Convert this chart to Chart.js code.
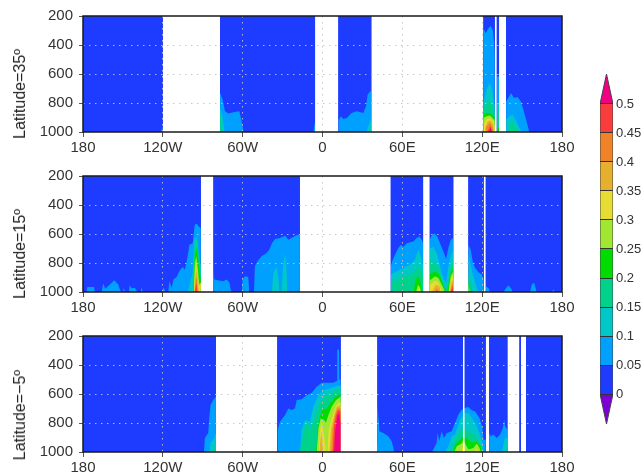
<!DOCTYPE html>
<html>
<head>
<meta charset="utf-8">
<title>Latitude sections</title>
<script src="https://cdn.jsdelivr.net/npm/chart.js@4/dist/chart.umd.min.js"></script>
<style>
    body { margin: 0; background: #fff; font-family: "Liberation Sans", sans-serif; filter: blur(0.35px); width: 643px; height: 474px; overflow: hidden; }
    .panel { position: absolute; left: 0; width: 643px; }
    .lat { position: absolute; left: 11px; writing-mode: vertical-rl; transform: rotate(180deg); font-size: 16px; line-height: 18px; color: #222; white-space: nowrap; }
    #colorbar { position: absolute; left: 590px; top: 60px; }
</style>
</head>
<body>
<div class="panel" style="top:0;height:160px"><canvas id="lat35Chart" width="643" height="160"></canvas><div class="lat" style="bottom:21px">Latitude=35º</div></div>
<div class="panel" style="top:160px;height:160px"><canvas id="lat15Chart" width="643" height="160"></canvas><div class="lat" style="bottom:21px">Latitude=15º</div></div>
<div class="panel" style="top:320px;height:154px"><canvas id="lat5Chart" width="643" height="154"></canvas><div class="lat" style="bottom:14px">Latitude=−5º</div></div>
<canvas id="colorbar" width="53" height="380"></canvas>
<script>
// Axis labels and colour levels
const lonLabels = ['180', '120W', '60W', '0', '60E', '120E', '180'];
const pressureTicks = [200, 400, 600, 800, 1000];
const levels = [0, 0.05, 0.1, 0.15, 0.2, 0.25, 0.3, 0.35, 0.4, 0.45, 0.5];
const levelColors = ['#1e3cff', '#00a0ff', '#00c8c8', '#00d28c', '#00dc00', '#a0e632', '#e6dc32', '#e6af2d', '#f08228', '#fa3c3c', '#f00082'];
const belowColor = '#7d00d5';

// Longitude ranges with no data (drawn white)
const lat35Missing = [[-120, -77], [-5.6, 11.9], [36.7, 120.9], [129.5, 131], [132.7, 138]];
const lat15Missing = [[-91.4, -82], [-17, 51.3], [75.6, 80.6], [98.3, 109.6], [121.2, 122.7]];
const lat5Missing = [[-80.1, -34], [13.7, 41.2], [105.6, 106.9], [122.7, 125.2], [139, 148], [149.2, 153]];

// Contours: [level index, [[lon, hPa], ...]], filled down to 1000 hPa
const lat35Contours = [
    [1, [[-121.5, 1000], [-120, 960]]],
    [1, [[-77, 731], [-75, 777], [-73.3, 857], [-70.8, 873], [-67, 864], [-62.5, 857], [-60.8, 926], [-59.5, 983], [-59.4, 1000]]],
    [2, [[-77, 830], [-75, 900], [-73.5, 1000]]],
    [3, [[-77, 869], [-76, 940], [-75, 1000]]],
    [1, [[-7, 1000], [-5.6, 930]]],
    [1, [[11.9, 926], [13.7, 892], [15.7, 910], [18.2, 903], [21.9, 869], [25.7, 857], [30.7, 869], [32.7, 823], [33.9, 743], [35.7, 720], [36.7, 713]]],
    [2, [[33, 1000], [36.7, 903]]],
    [1, [[120.9, 285], [122.7, 319], [124.7, 285], [126.4, 269], [128, 296], [129, 388], [129.5, 468]]],
    [2, [[120.9, 800], [123.4, 708], [125.4, 663], [127.2, 697], [129.5, 823]]],
    [3, [[120.9, 846], [123, 811], [125.4, 777], [127.2, 800], [129.5, 880]]],
    [4, [[120.9, 880], [123.4, 869], [126, 869], [129.5, 903]]],
    [5, [[120.9, 903], [123.4, 892], [126, 887], [129.5, 920]]],
    [6, [[121.4, 949], [123.4, 910], [126, 903], [128.4, 926], [129.5, 960]]],
    [7, [[122.2, 972], [124.2, 926], [126.4, 920], [128.4, 949], [129, 1000]]],
    [8, [[122.8, 1000], [123.4, 960], [126, 932], [128, 972], [128.4, 1000]]],
    [9, [[124.2, 1000], [126, 955], [127.4, 1000]]],
    [10, [[125.2, 1000], [126.4, 966], [127.4, 1000]]],
    [1, [[131, 617], [132.7, 617]]],
    [2, [[131, 800], [132.7, 800]]],
    [3, [[131, 870], [132.7, 870]]],
    [4, [[131, 970], [132.7, 970]]],
    [1, [[138, 789], [139.7, 766], [141.7, 731], [144, 766], [146.5, 759], [149.2, 789], [151, 846], [153, 914], [154.7, 972], [155.3, 1000]]],
    [2, [[138, 914], [140.5, 892], [143, 880], [145.5, 926], [148, 972], [149.8, 1000]]],
    [3, [[139.5, 1000], [140.5, 960], [142, 930], [145, 960], [147, 1000]]]
];

const lat15Contours = [
    [1, [[-177.3, 1000], [-176.8, 965], [-171.6, 965], [-171.1, 1000]]],
    [1, [[-166, 1000], [-164.8, 942], [-163.3, 978], [-159.8, 949], [-156.5, 919], [-153.5, 949], [-152.3, 983], [-151, 1000]]],
    [1, [[-150, 1000], [-149.3, 972], [-148.5, 1000]]],
    [1, [[-145.5, 1000], [-145, 955], [-143.5, 972], [-141, 972], [-139, 1000]]],
    [1, [[-136.5, 1000], [-136, 968], [-135, 1000]]],
    [1, [[-120.5, 1000], [-119.7, 968], [-117.7, 1000]]],
    [1, [[-116, 1000], [-115, 926], [-113.4, 972], [-112, 914], [-109.7, 896], [-107, 846], [-105, 827], [-103.4, 846], [-101.6, 766], [-100, 674], [-97.6, 663], [-96, 537], [-94.6, 530], [-92.9, 548], [-91.4, 560]]],
    [2, [[-101, 1000], [-99.6, 937], [-97.6, 869], [-96.4, 640], [-94.6, 617], [-92.9, 754], [-91.4, 823]]],
    [3, [[-97.6, 1000], [-96.6, 777], [-95.6, 640], [-94.1, 640], [-92.6, 800], [-91.4, 880]]],
    [4, [[-97.1, 1000], [-96.1, 754], [-95.1, 690], [-94.1, 708], [-92.6, 857], [-91.4, 903]]],
    [5, [[-96.9, 1000], [-95.9, 800], [-94.9, 754], [-93.9, 823], [-92.1, 1000]]],
    [6, [[-96.6, 1000], [-95.6, 834], [-94.9, 789], [-93.9, 869], [-92.9, 960], [-92.1, 940], [-91.4, 937]]],
    [7, [[-96.4, 1000], [-95.4, 880], [-94.6, 846], [-93.6, 926], [-92.9, 1000]]],
    [8, [[-96.1, 1000], [-95.1, 914], [-94.6, 896], [-93.9, 1000]]],
    [9, [[-95.9, 1000], [-94.9, 937], [-94.4, 937], [-93.9, 1000]]],
    [1, [[-82, 846], [-81.3, 914], [-79.6, 918], [-74.6, 926], [-72, 914], [-70, 932], [-69, 983], [-68.3, 1000]]],
    [1, [[-60.8, 1000], [-60, 910], [-58.3, 892], [-55.8, 896], [-55, 1000]]],
    [1, [[-51.5, 1000], [-50.8, 823], [-49, 789], [-45.8, 754], [-42, 731], [-40, 708], [-38, 663], [-35.7, 635], [-32, 628], [-28, 612], [-25.7, 640], [-22, 621], [-18.7, 605], [-17, 605]]],
    [2, [[-38, 1000], [-37, 869], [-34.5, 827], [-33, 914], [-32.5, 1000]]],
    [2, [[-30.7, 1000], [-29.5, 800], [-28, 743], [-27, 846], [-26.5, 1000]]],
    [1, [[51.3, 823], [52.8, 777], [54.5, 743], [57, 697], [59, 674], [60.8, 690], [63.3, 663], [68.3, 651], [70.8, 628], [72.8, 617], [74.6, 640], [75.6, 663]]],
    [2, [[51.3, 880], [55.8, 857], [60.8, 834], [65.8, 811], [69.5, 777], [72, 708], [74.6, 777], [75.6, 823]]],
    [3, [[51.3, 938], [55.8, 914], [60.8, 892], [65.8, 880], [69.5, 857], [72, 823], [74.6, 857], [75.6, 880]]],
    [4, [[68.3, 1000], [69.5, 937], [71.3, 892], [73.3, 914], [74.6, 1000]]],
    [5, [[70.3, 1000], [71.8, 949], [73.3, 972], [74.1, 1000]]],
    [6, [[71.8, 1000], [72.8, 960], [73.6, 1000]]],
    [1, [[80.6, 640], [82, 612], [84, 594], [86.3, 617], [88.8, 674], [90.9, 720], [92.9, 772], [94.6, 697], [96.4, 640], [98.3, 628]]],
    [2, [[80.6, 697], [83.3, 690], [85.8, 731], [87.8, 800], [89.6, 869], [91.3, 914], [92.9, 942], [94.6, 823], [96.4, 754], [98.3, 708]]],
    [3, [[80.6, 777], [84.6, 811], [87.1, 834], [89.6, 914], [92.1, 972], [93.4, 983], [95.4, 869], [98.3, 777]]],
    [4, [[80.6, 880], [84.6, 857], [87.8, 880], [90.1, 937], [92.9, 1000]]],
    [4, [[93.9, 1000], [95.9, 880], [98.3, 823]]],
    [5, [[80.6, 920], [84.6, 892], [87.1, 903], [90.9, 972], [92.1, 1000]]],
    [5, [[94.6, 1000], [96.4, 892], [98.3, 857]]],
    [6, [[80.6, 955], [84.6, 920], [87.1, 932], [90.1, 1000]]],
    [6, [[95.1, 1000], [96.6, 914], [98.3, 880]]],
    [7, [[82.1, 1000], [85.3, 949], [87.8, 960], [88.8, 1000]]],
    [7, [[95.6, 1000], [96.9, 937], [98.3, 914]]],
    [8, [[84.6, 1000], [85.8, 972], [87.8, 1000]]],
    [8, [[96.1, 1000], [97.1, 955], [98.3, 937]]],
    [9, [[96.4, 1000], [97.4, 972], [98.3, 960]]],
    [1, [[109.6, 674], [111.4, 708], [112.9, 789], [114.7, 834], [117.2, 864], [119.7, 880], [121.2, 914]]],
    [2, [[109.6, 731], [110.9, 800], [112.9, 880], [116, 972], [117.2, 1000]]],
    [3, [[109.6, 869], [110.9, 914], [112.2, 972], [112.9, 1000]]],
    [4, [[109.6, 926], [111.4, 1000]]],
    [5, [[109.6, 949], [110.9, 1000]]],
    [1, [[122.7, 960], [124.7, 972], [126, 1000]]],
    [1, [[136, 1000], [138, 972], [139.7, 955], [141.5, 972], [143, 1000]]],
    [1, [[156, 1000], [157.3, 949], [159, 937], [161, 1000]]],
    [1, [[172.3, 1000], [173.5, 983], [174.8, 1000]]]
];

const lat5Contours = [
    [1, [[-89.1, 1000], [-88.4, 903], [-85.9, 869], [-85, 754], [-84.1, 674], [-82, 640], [-80.1, 617]]],
    [2, [[-85, 1000], [-84.1, 937], [-82, 914], [-80.1, 869]]],
    [3, [[-82, 1000], [-80.1, 950]]],
    [1, [[-33.7, 849], [-32, 792], [-28.2, 746], [-25.7, 700], [-23.2, 711], [-20.7, 700], [-19.4, 642], [-15.7, 637], [-11.9, 608], [-8.1, 591], [-4.4, 550], [-0.6, 522], [4.4, 522], [8.2, 522], [10.9, 509], [11.1, 297], [12.4, 292], [12.7, 499], [13.7, 504]]],
    [2, [[-16.9, 1000], [-15.7, 849], [-13.2, 780], [-9.4, 792], [-6.9, 688], [-3.1, 608], [0.6, 573], [5.7, 562], [9.4, 550], [13.7, 539]]],
    [3, [[-16.9, 1000], [-14.4, 872], [-11.9, 792], [-9.4, 849], [-6.9, 792], [-4.4, 723], [-1.9, 654], [1.9, 619], [6.9, 596], [10.7, 573], [13.7, 562]]],
    [4, [[-4.9, 1000], [-3.6, 826], [-1.9, 752], [0.1, 700], [2.6, 706], [5.6, 665], [9.4, 624], [13.7, 596]]],
    [5, [[-4.4, 1000], [-3.1, 838], [-1.4, 769], [1.1, 780], [2.6, 798], [4.4, 746], [6.9, 688], [10.2, 642], [13.7, 619]]],
    [6, [[-3.1, 1000], [-1.9, 849], [-0.6, 792], [1.1, 872], [2.6, 1000]]],
    [6, [[3.6, 1000], [4.6, 849], [6.9, 769], [10.2, 677], [13.7, 654]]],
    [7, [[-2.4, 1000], [-0.9, 860], [0.6, 1000]]],
    [7, [[5.1, 1000], [6.4, 849], [8.2, 769], [10.7, 688], [13.7, 677]]],
    [8, [[6.4, 1000], [7.7, 838], [9.4, 746], [11.2, 700], [13.7, 700]]],
    [9, [[7.7, 1000], [8.7, 826], [10.2, 746], [11.7, 711], [13.7, 723]]],
    [10, [[8.7, 1000], [9.4, 872], [10.7, 769], [11.9, 734], [12.7, 746], [13.7, 803]]],
    [1, [[41.2, 674], [42.2, 777], [42.7, 857], [45.7, 869], [49.5, 892], [52, 926], [53.3, 972], [53.8, 1000]]],
    [2, [[41.2, 914], [42, 1000]]],
    [1, [[82.1, 1000], [83.3, 983], [85.8, 937], [86.6, 869], [87.8, 926], [89.6, 857], [91.3, 903], [93.4, 869], [97.1, 857], [99.6, 800], [102.1, 743], [104.6, 708], [107, 697], [109.6, 690], [112.2, 712], [114.7, 720], [118, 766], [120.2, 834], [121, 914], [122.7, 918]]],
    [2, [[92.1, 1000], [94.6, 960], [97.1, 892], [99.6, 880], [103.4, 777], [107.1, 731], [109.6, 731], [112.2, 766], [114.7, 800], [118, 869], [120.2, 937], [121.2, 1000]]],
    [3, [[97.1, 1000], [99.1, 926], [102.1, 869], [105.9, 834], [109.6, 857], [113.4, 880], [117.2, 914], [120.2, 1000]]],
    [4, [[98.4, 1000], [99.6, 949], [103.4, 914], [105.9, 892], [109.6, 914], [112.2, 937], [116, 926], [119, 960], [119.7, 1000]]],
    [5, [[99.1, 1000], [100.9, 960], [104.6, 942], [105.9, 914], [107.6, 949], [109.6, 983], [113.4, 972], [116, 942], [118, 972], [119, 1000]]],
    [6, [[104.6, 1000], [105.9, 937], [107.2, 1000]]],
    [6, [[114.7, 1000], [116, 972], [117.2, 1000]]],
    [1, [[125.2, 869], [126.4, 892], [128.4, 880], [131, 903], [133.5, 880], [135.5, 834], [136.5, 777], [137.2, 823], [139, 846]]],
    [2, [[134.7, 1000], [137.2, 903], [139, 903]]]
];

const commonDataset = { type: 'line', pointRadius: 0, borderWidth: 0, tension: 0 };
const gridColor = 'rgba(195, 195, 195, 0.9)';

function toPoints(pairs) {
    return pairs.map(p => ({ x: p[0], y: p[1] }));
}

// Draw order: base blue, then rising levels, then the white missing columns
function panelDatasets(contours, missing) {
    const sets = [{ ...commonDataset, data: toPoints([[-180, 200], [180, 200]]), backgroundColor: levelColors[0], fill: { value: 1000 }, order: 20 }];
    contours.forEach(c => {
        sets.push({ ...commonDataset, data: toPoints(c[1]), backgroundColor: levelColors[c[0]], fill: { value: 1000 }, order: 20 - c[0] });
    });
    missing.forEach(m => {
        sets.push({ ...commonDataset, data: toPoints([[m[0], 200], [m[1], 200]]), backgroundColor: '#ffffff', fill: { value: 1000 }, order: 1 });
    });
    return sets;
}

// Black box round the plot area
const frame = {
    id: 'frame',
    afterDraw(chart) {
        const a = chart.chartArea;
        const ctx = chart.ctx;
        ctx.save();
        ctx.strokeStyle = '#1a1a1a';
        ctx.lineWidth = 1.5;
        ctx.strokeRect(a.left, a.top, a.right - a.left, a.bottom - a.top);
        ctx.restore();
    }
};

function makePanel(id, contours, missing, canvasHeight) {
    new Chart(document.getElementById(id), {
        type: 'line',
        data: { datasets: panelDatasets(contours, missing) },
        plugins: [frame],
        options: {
            responsive: false,
            animation: false,
            layout: { padding: { top: 16, right: 81, left: 0, bottom: 0 } },
            plugins: { legend: { display: false }, tooltip: { enabled: false } },
            scales: {
                x: {
                    type: 'linear',
                    min: -180,
                    max: 180,
                    afterFit: s => { s.height = canvasHeight - 132; },
                    afterBuildTicks: s => { s.ticks = lonLabels.map((l, i) => ({ value: -180 + i * 60 })); },
                    border: { display: false, dash: [1.5, 4.5] },
                    grid: {
                        z: 1,
                        color: c => (Math.abs(c.tick.value) === 180 ? 'transparent' : gridColor),
                        tickColor: '#555',
                        tickLength: 5,
                        tickBorderDash: []
                    },
                    ticks: {
                        autoSkip: false,
                        maxRotation: 0,
                        padding: 2,
                        color: '#333',
                        font: { family: 'Liberation Sans', size: 15 },
                        callback: (v, i) => lonLabels[i]
                    }
                },
                y: {
                    reverse: true,
                    min: 200,
                    max: 1000,
                    afterFit: s => { s.width = 83; },
                    afterBuildTicks: s => { s.ticks = pressureTicks.map(v => ({ value: v })); },
                    border: { display: false, dash: [1.5, 4.5] },
                    grid: {
                        z: 1,
                        color: c => (c.tick.value === 200 || c.tick.value === 1000 ? 'transparent' : gridColor),
                        tickColor: '#555',
                        tickLength: 4,
                        tickBorderDash: []
                    },
                    ticks: {
                        padding: 6,
                        color: '#333',
                        font: { family: 'Liberation Sans', size: 15 },
                        callback: v => String(v)
                    }
                }
            }
        }
    });
}

function colorbarDatasets() {
    const last = levels.length - 1;
    const edge = { borderWidth: 1, borderColor: '#444' };
    const sets = [];
    for (let i = 0; i < last; i++) {
        sets.push({ ...commonDataset, data: toPoints([[0, levels[i]], [1, levels[i]]]), backgroundColor: levelColors[i], fill: { value: levels[i + 1] } });
    }
    sets.push({ ...commonDataset, ...edge, data: toPoints([[0, 0.5], [0.5, 0.5517], [1, 0.5]]), backgroundColor: levelColors[10], fill: { value: 0.5 } });
    sets.push({ ...commonDataset, ...edge, data: toPoints([[0, 0], [0.5, -0.0517], [1, 0]]), backgroundColor: belowColor, fill: { value: 0 } });
    sets.unshift({ ...commonDataset, ...edge, data: toPoints([[0, 0], [0, 0.5]]), fill: false });
    sets.unshift({ ...commonDataset, ...edge, data: toPoints([[1, 0], [1, 0.5]]), fill: false });
    return sets;
}

makePanel('lat35Chart', lat35Contours, lat35Missing, 160);
makePanel('lat15Chart', lat15Contours, lat15Missing, 160);
makePanel('lat5Chart', lat5Contours, lat5Missing, 154);

new Chart(document.getElementById('colorbar'), {
    type: 'line',
    data: { datasets: colorbarDatasets() },
    options: {
        responsive: false,
        animation: false,
        layout: { padding: { top: 14, bottom: 16, left: 10, right: 0 } },
        plugins: { legend: { display: false }, tooltip: { enabled: false } },
        scales: {
            x: { type: 'linear', min: 0, max: 1, display: false },
            y: {
                position: 'right',
                min: -0.0517,
                max: 0.5517,
                afterFit: s => { s.width = 30; },
                afterBuildTicks: s => { s.ticks = levels.map(v => ({ value: v })); },
                border: { display: false },
                grid: { z: 1, color: '#333', drawTicks: false },
                ticks: {
                    padding: 3,
                    color: '#333',
                    font: { family: 'Liberation Sans', size: 13 },
                    callback: v => String(v)
                }
            }
        }
    }
});
</script>
</body>
</html>
